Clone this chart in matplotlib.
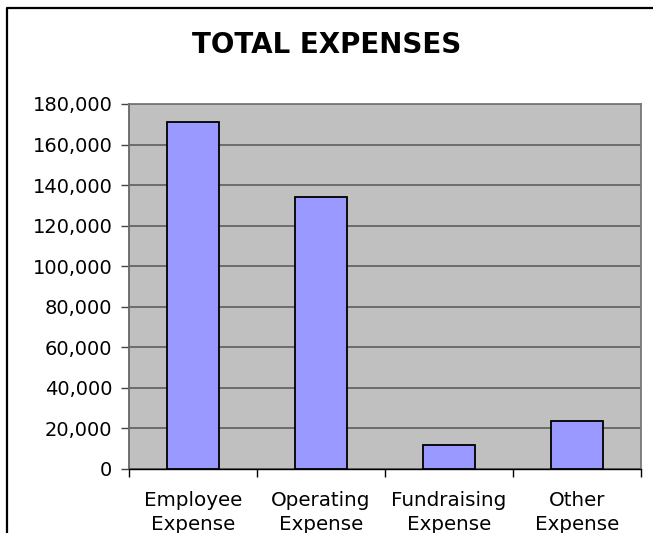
import matplotlib.pyplot as plt
import numpy as np
from matplotlib.lines import Line2D
from matplotlib.ticker import FuncFormatter, FixedLocator

categories = ["Employee\nExpense", "Operating\nExpense", "Fundraising\nExpense", "Other\nExpense"]
totals = [171000, 134000, 11800, 23800]
y_ticks = list(range(0, 180001, 20000))


def main():
    fig = plt.figure(figsize=(6.53, 5.33), dpi=100)
    ax = fig.add_axes([129 / 653, 1 - 469 / 533, (641 - 129) / 653, (469 - 104) / 533])

    # Chart frame: only the left and top edges fall inside the picture
    fx, fy = 7 / 653, 1 - 8 / 533
    fig.lines.append(Line2D([fx, fx, 1.0], [0.0, fy, fy], transform=fig.transFigure,
                            color="black", linewidth=1.6))

    x = np.arange(len(categories))
    ax.set_facecolor("#C0C0C0")
    ax.bar(x, totals, width=0.4, color="#9999FF", edgecolor="black",
           linewidth=1.3, zorder=3)

    ax.set_xlim(-0.5, len(categories) - 0.5)
    ax.set_ylim(0, 180000)
    ax.set_yticks(y_ticks)
    ax.yaxis.set_major_formatter(FuncFormatter(lambda v, _: f"{int(v):,}"))
    ax.grid(axis="y", color="#666666", linewidth=1.3, zorder=1)

    ax.set_xticks(x)
    ax.set_xticklabels(categories, fontsize=14.3, linespacing=1.3)
    ax.tick_params(axis="x", length=0, pad=16)
    ax.xaxis.set_minor_locator(FixedLocator(np.arange(-0.5, len(categories), 1.0)))
    ax.tick_params(axis="x", which="minor", length=6, width=1, color="black")
    ax.tick_params(axis="y", length=6, width=1, color="#444444", labelsize=14, pad=6)

    for side in ["top", "right"]:
        ax.spines[side].set_color("#777777")
        ax.spines[side].set_linewidth(1.3)
    ax.spines["left"].set_color("#666666")
    ax.spines["left"].set_linewidth(1.3)
    ax.spines["bottom"].set_color("black")
    ax.spines["bottom"].set_linewidth(1.0)

    fig.text(0.5, 1 - 45 / 533, "TOTAL EXPENSES", ha="center", va="center",
             fontsize=20, fontweight="bold")

    fig.savefig("out.png", dpi=100)


if __name__ == "__main__":
    main()
